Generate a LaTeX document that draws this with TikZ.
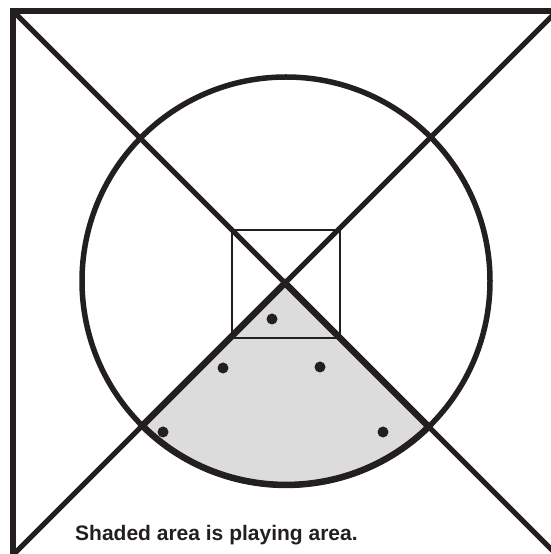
\documentclass[tikz,border=0pt]{standalone}
\usepackage{fontspec}
\setmainfont{Liberation Sans}
\definecolor{ink}{HTML}{231F20}
\definecolor{areagray}{HTML}{DCDCDC}
\begin{document}
\begin{tikzpicture}[x=1pt,y=1pt,
  heavy/.style={draw=ink,line width=6pt},
  diag/.style={draw=ink,line width=5pt},
  thin/.style={draw=ink,line width=2.2pt},
  dot/.style={fill=ink}]
\useasboundingbox (0,0) rectangle (551,554);
\clip (0,0) rectangle (551,554);
\coordinate (c) at (285,271);
\coordinate (o) at (286,273);
% shaded playing area
\fill[fill=areagray] (c) -- (142.3,128.3) arc[start angle=225.2,end angle=314.4,radius=204] -- cycle;
% outer square (left and top sides, the rest lies outside the picture)
\draw[heavy,line join=miter] (13,-20) -- (13,543) -- (580,543);
% circle
\draw[heavy,line width=5.5pt] (o) circle[radius=204];
% diagonals
\draw[diag] (13,543) -- (577,-21);
\draw[diag] (557,543) -- (-7,-21);
% inner square
\draw[thin] (232,216) rectangle (340,324);
% playing area outline
\draw[draw=ink,line width=6.5pt,line join=miter] (c) -- (142.3,128.3) arc[start angle=225.2,end angle=314.4,radius=204] -- cycle;
% dots
\foreach \p/\q in {272/235,223/186,320/187,163/122,383/122}
  \fill[dot] (\p,\q) circle[radius=5.5];
\node[anchor=base west,inner sep=0pt,text=ink,font=\fontsize{21}{25}\selectfont\bfseries] (lbl) at (75,13) {Shaded area is playing area.};
\end{tikzpicture}
\end{document}
